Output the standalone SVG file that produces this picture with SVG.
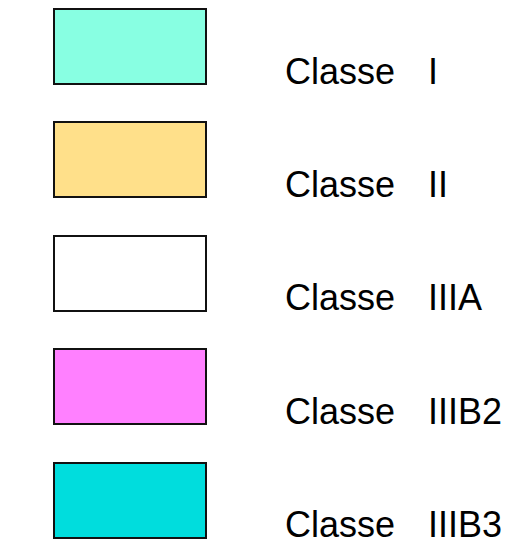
<svg xmlns="http://www.w3.org/2000/svg" width="511" height="549" viewBox="0 0 511 549">
<style>
.sw{stroke:#111;stroke-width:2}
.t{font-family:"Liberation Sans",Arial,sans-serif;font-size:36px;fill:#000}
</style>
<rect width="511" height="549" fill="#fff"/>
<g id="classe-I"><rect class="sw" x="54" y="9" width="152" height="75" fill="#88FFE2"/><text class="t" x="285" y="84">Classe</text><text class="t" x="428" y="84">I</text></g>
<g id="classe-II"><rect class="sw" x="54" y="122" width="152" height="75" fill="#FFE08A"/><text class="t" x="285" y="197">Classe</text><text class="t" x="428" y="197">II</text></g>
<g id="classe-IIIA"><rect class="sw" x="54" y="236" width="152" height="75" fill="#FFFFFF"/><text class="t" x="285" y="310">Classe</text><text class="t" x="428" y="310">IIIA</text></g>
<g id="classe-IIIB2"><rect class="sw" x="54" y="349" width="152" height="75" fill="#FF80FF"/><text class="t" x="285" y="424">Classe</text><text class="t" x="428" y="424">IIIB2</text></g>
<g id="classe-IIIB3"><rect class="sw" x="54" y="463" width="152" height="75" fill="#00DDDD"/><text class="t" x="285" y="537">Classe</text><text class="t" x="428" y="537">IIIB3</text></g>
<g id="connectors"/>
</svg>
